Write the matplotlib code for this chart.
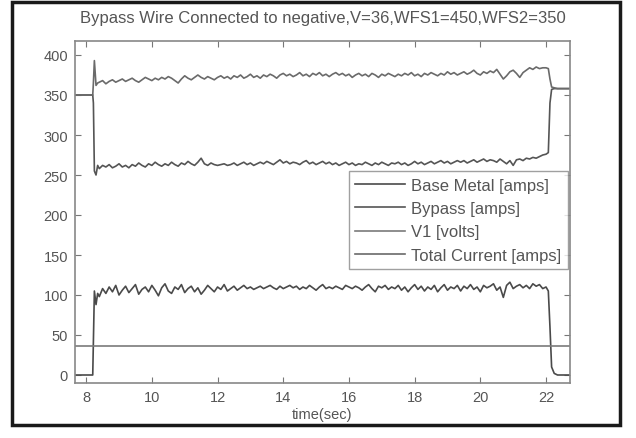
import matplotlib
matplotlib.use("Agg")
import matplotlib.pyplot as plt
from matplotlib.patches import Rectangle
import numpy as np

plt.rcParams['font.family'] = ['Liberation Sans', 'DejaVu Sans']

title = "Bypass Wire Connected to negative,V=36,WFS1=450,WFS2=350"
xlabel = "time(sec)"
series_names = ["Base Metal [amps]", "Bypass [amps]", "V1 [volts]", "Total Current [amps]"]

# time stamps: pre-arc, arc start, steady arc (0.1 s), arc end, post-arc
t_start = [7.66, 8.20, 8.22, 8.25, 8.30, 8.35]
t_arc = [round(8.4 + 0.1 * i, 2) for i in range(136)]
t_end = [22.0, 22.07, 22.12, 22.17, 22.25, 22.35, 22.75]

base_start = [0, 0, 40, 105, 88, 102]
base_arc = [98, 108, 102, 110, 104, 112, 100, 106, 111, 103,
            108, 113, 101, 107, 110, 104, 112, 106, 99, 109,
            114, 105, 102, 110, 107, 113, 103, 108, 111, 104,
            109, 101, 106, 112, 108, 104, 110, 107, 113, 105,
            108, 111, 106, 109, 112, 108, 110, 107, 109, 111,
            108, 110, 112, 109, 107, 111, 108, 110, 112, 109,
            111, 107, 110, 108, 112, 109, 106, 110, 113, 108,
            110, 108, 111, 109, 107, 112, 110, 108, 111, 109,
            106, 110, 113, 108, 104, 111, 109, 112, 107, 110,
            108, 112, 106, 110, 104, 109, 113, 107, 111, 105,
            110, 107, 112, 104, 109, 113, 106, 110, 108, 112,
            105, 111, 108, 113, 107, 110, 104, 112, 109, 111,
            114, 106, 110, 97, 112, 116, 108, 111, 113, 109,
            112, 108, 114, 111, 113, 108]
base_end = [110, 105, 60, 10, 2, 0, 0]

bypass_start = [350, 350, 340, 255, 250, 262]
bypass_arc = [258, 262, 260, 263, 259, 261, 264, 260, 262, 259,
              263, 261, 265, 262, 260, 264, 262, 266, 263, 261,
              264, 262, 266, 263, 261, 265, 263, 267, 264, 262,
              266, 271, 264, 262, 265, 263, 262, 263, 264, 262,
              263, 265, 262, 264, 266, 263, 265, 262, 264, 266,
              264, 267, 265, 263, 266, 269, 265, 267, 264, 266,
              265, 263, 266, 268, 264, 266, 263, 265, 267, 264,
              266, 263, 265, 262, 264, 266, 263, 265, 262, 264,
              263, 266, 264, 262, 265, 263, 266, 264, 262, 265,
              264, 266, 263, 265, 262, 264, 267, 264, 266, 263,
              265, 267, 264, 266, 268, 265, 267, 264, 266, 268,
              266, 268, 265, 267, 269, 266, 268, 270, 267, 269,
              268, 266, 270, 267, 264, 268, 262, 269, 270, 268,
              271, 270, 272, 271, 273, 275]
bypass_end = [276, 278, 340, 357, 358, 358, 358]

total_start = [350, 350, 365, 393, 362, 365]
total_arc = [366, 368, 364, 367, 369, 366, 368, 370, 367, 369,
             371, 368, 366, 369, 372, 370, 368, 371, 369, 372,
             370, 373, 371, 368, 365, 370, 374, 371, 369, 372,
             375, 372, 370, 373, 371, 369, 372, 374, 371, 373,
             370, 374, 372, 375, 371, 373, 376, 372, 374, 371,
             375, 373, 376, 374, 371, 375, 377, 374, 376, 373,
             375, 378, 374, 376, 373, 377, 375, 378, 374, 376,
             373, 376, 378, 375, 377, 374, 376, 372, 375, 377,
             374, 376, 373, 377, 375, 372, 376, 374, 377, 375,
             373, 376, 374, 377, 375, 378, 374, 376, 373, 377,
             375, 378, 376, 374, 377, 375, 379, 376, 378, 375,
             377, 379, 376, 378, 381, 377, 375, 379, 377, 380,
             378, 382, 376, 370, 374, 379, 381, 377, 372, 378,
             381, 384, 382, 385, 383, 384]
total_end = [384, 383, 370, 360, 359, 358, 358]

v1_t = [7.66, 22.75]
v1 = [36, 36]

xticks = [8, 10, 12, 14, 16, 18, 20, 22]
yticks = [0, 50, 100, 150, 200, 250, 300, 350, 400]

t = t_start + t_arc + t_end
base = base_start + base_arc + base_end
bypass = bypass_start + bypass_arc + bypass_end
total = total_start + total_arc + total_end

W, H = 636, 439
fig = plt.figure(figsize=(W / 100, H / 100), dpi=100)
ax = fig.add_axes([75 / W, 1 - 384 / H, (570 - 75) / W, (384 - 42) / H])

colors = ['#4a4a4a', '#555555', '#7a7a7a', '#6a6a6a']
ax.plot(t, base, color=colors[0], lw=1.2, label=series_names[0])
ax.plot(t, bypass, color=colors[1], lw=1.2, label=series_names[1])
ax.plot(v1_t, v1, color=colors[2], lw=1.2, label=series_names[2])
ax.plot(t, total, color=colors[3], lw=1.2, label=series_names[3])

ax.set_xlim(7.66, 22.73)
ax.set_ylim(-10, 417.5)
ax.set_xticks(xticks)
ax.set_yticks(yticks)
ax.tick_params(direction='in', top=True, right=True, length=4, width=0.8,
               colors='#777777', labelcolor='#555555', labelsize=10.5, pad=5)
for s in ax.spines.values():
    s.set_color('#888888')
    s.set_linewidth(1.2)

ax.set_title(title, fontsize=12, color='#555555', pad=14)
ax.set_xlabel(xlabel, fontsize=10.5, color='#555555', labelpad=2.5)

leg = ax.legend(loc='upper right', bbox_to_anchor=(568 / W, 1 - 172 / H),
                bbox_transform=fig.transFigure, fontsize=12, frameon=True,
                fancybox=False, edgecolor='#888888', handlelength=3.0,
                handletextpad=0.35, labelspacing=0.5, borderpad=0.4,
                borderaxespad=0)
leg.get_frame().set_linewidth(1.0)
for txt in leg.get_texts():
    txt.set_color('#555555')

fig.patches.append(Rectangle((12 / W, 1 - 426 / H), (620 - 12) / W, (426 - 3) / H,
                             transform=fig.transFigure, fill=False,
                             edgecolor='#1a1a1a', linewidth=2.5))

fig.savefig('out.png', dpi=100)
